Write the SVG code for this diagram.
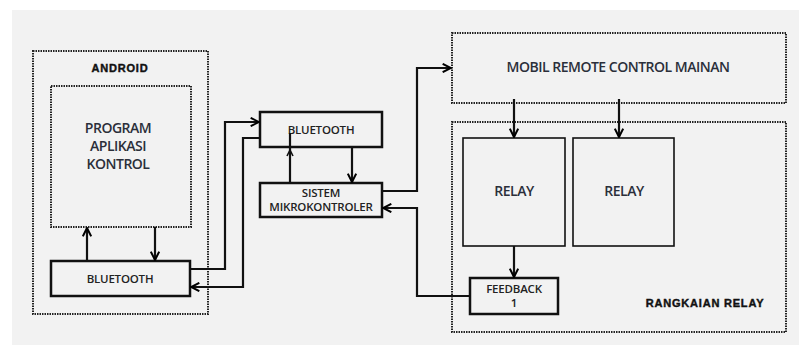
<svg xmlns="http://www.w3.org/2000/svg" width="799" height="345" viewBox="0 0 799 345">
<defs>
<marker id="ah2" viewBox="0 0 12 12" refX="11" refY="6" markerWidth="10" markerHeight="10" orient="auto" markerUnits="userSpaceOnUse">
<path d="M1,1 L11,6 L1,11" fill="none" stroke="#000" stroke-width="2.4"/>
</marker>
</defs>
<style>
.dot{fill:none;stroke:#222;stroke-width:2;stroke-dasharray:1.5 1}
.box{fill:none;stroke:#111;stroke-width:2.5}
.rbox{fill:none;stroke:#111;stroke-width:1.6}
.ln{fill:none;stroke:#111;stroke-width:2.2}
.t{font-family:"Open Sans","Liberation Sans",sans-serif;font-size:11.5px;font-weight:600;fill:#222;text-anchor:middle;letter-spacing:-0.2px}
.big{font-family:"Open Sans","Liberation Sans",sans-serif;font-size:14px;font-weight:600;fill:#2b2f3a;text-anchor:middle;letter-spacing:-0.5px}
.b{font-family:"Liberation Sans",Arial,sans-serif;font-size:11px;font-weight:bold;fill:#111;text-anchor:middle;letter-spacing:0.8px;stroke:#111;stroke-width:0.4}
</style>
<rect x="12" y="10" width="787" height="335" fill="#f2f2f2"/>

<g id="android">
<rect class="dot" x="33" y="51" width="175" height="263"/>
<text class="b" x="120" y="72">ANDROID</text>
</g>
<g id="program">
<rect class="dot" x="51" y="86" width="140" height="141"/>
<text class="big" x="118" y="133">PROGRAM</text>
<text class="big" x="118" y="151">APLIKASI</text>
<text class="big" x="118" y="169">KONTROL</text>
</g>
<g id="bt-android">
<rect class="box" x="51" y="261" width="139" height="35"/>
<text class="t" x="120" y="283">BLUETOOTH</text>
</g>
<g id="bt-mid">
<rect class="box" x="260" y="112" width="122" height="35"/>
<text class="t" x="321" y="134">BLUETOOTH</text>
</g>
<g id="sistem">
<rect class="box" x="260" y="183" width="122" height="34"/>
<text class="t" x="321" y="197">SISTEM</text>
<text class="t" x="321" y="211">MIKROKONTROLER</text>
</g>
<g id="mobil">
<rect class="dot" x="452" y="33" width="334" height="70"/>
<text class="big" x="618" y="72">MOBIL REMOTE CONTROL MAINAN</text>
</g>
<g id="rangkaian">
<rect class="dot" x="452" y="122" width="334" height="210"/>
<text class="b" x="705" y="307">RANGKAIAN RELAY</text>
</g>
<g id="relay1">
<rect class="rbox" x="463" y="138" width="102" height="108"/>
<text class="big" x="514" y="196">RELAY</text>
</g>
<g id="relay2">
<rect class="rbox" x="573" y="138" width="101" height="108"/>
<text class="big" x="624" y="196">RELAY</text>
</g>
<g id="feedback">
<rect class="box" x="470" y="278" width="88" height="36"/>
<text class="t" x="514" y="293">FEEDBACK</text>
<text class="t" x="514" y="307">1</text>
</g>

<g id="connectors">
<path class="ln" d="M87,261 V228" marker-end="url(#ah2)"/>
<path class="ln" d="M155,227 V260" marker-end="url(#ah2)"/>
<path class="ln" d="M190,269 H225 V122 H259" marker-end="url(#ah2)"/>
<path class="ln" d="M260,138 H243 V287 H191" marker-end="url(#ah2)"/>
<path class="ln" d="M352,147 V182" marker-end="url(#ah2)"/>
<path class="ln" d="M290,183 V133"/>
<path d="M287,156 L290,150 L293,156" fill="none" stroke="#111" stroke-width="1.6"/>
<path class="ln" d="M382,191 H417 V68 H451" marker-end="url(#ah2)"/>
<path class="ln" d="M470,296 H417 V208 H383" marker-end="url(#ah2)"/>
<path class="ln" d="M514,99 V137" marker-end="url(#ah2)"/>
<path class="ln" d="M619,99 V137" marker-end="url(#ah2)"/>
<path class="ln" d="M514,246 V277" marker-end="url(#ah2)"/>
</g>
</svg>
